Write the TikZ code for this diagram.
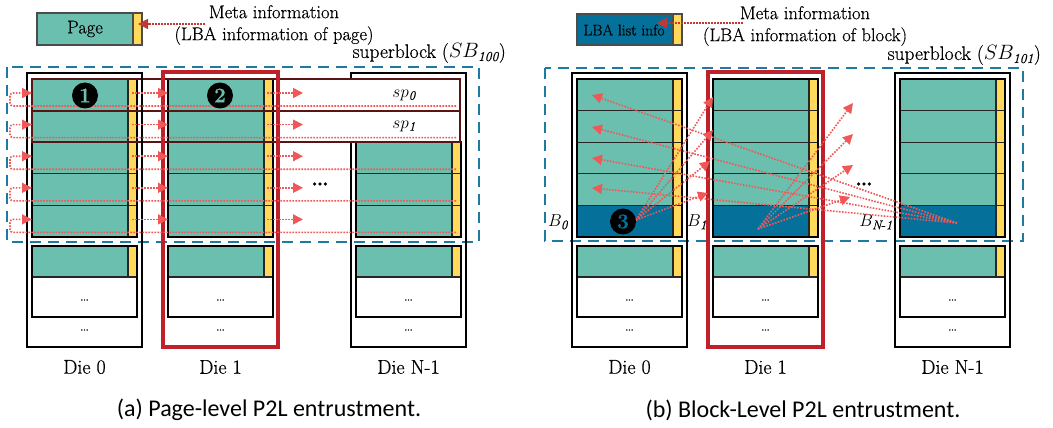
\documentclass[tikz,border=0pt]{standalone}
\usepackage{amsmath}
\usepackage{fontspec}
\setmainfont{Latin Modern Roman}[FakeBold=0.5]
\newfontfamily\capfont{Carlito}
\usetikzlibrary{arrows.meta}

\definecolor{pagegreen}{HTML}{6BBFAE}
\definecolor{metayellow}{HTML}{FFD95A}
\definecolor{listblue}{HTML}{05719A}
\definecolor{sbblue}{HTML}{1F7AA3}
\definecolor{dieRed}{HTML}{C0202A}
\definecolor{spmaroon}{HTML}{5B1414}
\definecolor{ptrred}{HTML}{F05858}
\definecolor{metared}{HTML}{C03838}

\tikzset{
  cellline/.style={line width=1.1pt, draw=black!85},
  colframe/.style={line width=1.8pt, draw=black},
  dieframe/.style={line width=2pt, draw=black},
  dieframered/.style={line width=3.2pt, draw=dieRed},
  sbframe/.style={line width=2.2pt, draw=sbblue, dash pattern=on 11pt off 7pt},
  spframe/.style={line width=1.8pt, draw=spmaroon},
  ptr/.style={draw=ptrred, line width=1.6pt, dash pattern=on 1.6pt off 1.4pt,
    -{Triangle[length=10pt,width=10pt,fill=ptrred]}},
  metaptr/.style={draw=metared, line width=1.6pt, dash pattern=on 1.6pt off 1.4pt,
    -{Triangle[length=10pt,width=10pt,fill=metared]}},
  dielabel/.style={font=\fontsize{20}{22}\selectfont, inner sep=0pt},
  metalabel/.style={font=\fontsize{18.5}{22}\selectfont, align=center, inner sep=0pt},
  sblabel/.style={font=\fontsize{18.5}{20}\selectfont, inner sep=0pt},
  sbtitle/.style={font=\fontsize{19.5}{21}\selectfont, inner sep=0pt, anchor=east},
  caption/.style={font=\capfont\fontsize{24}{26}\selectfont, inner sep=0pt},
  smalldots/.style={font=\fontsize{16}{16}\selectfont, inner sep=0pt},
  bigdots/.style={font=\bfseries\fontsize{22}{22}\selectfont, inner sep=0pt},
  stepnum/.style={circle, fill=black, minimum size=26pt, inner sep=0pt,
    font=\bfseries\fontsize{21}{21}\selectfont},
}

% One column of five pages inside a die; the last page gets colour #3
\newcommand\pagecol[3]{%
  \foreach \i in {#2,...,4}{
    \pgfmathsetmacro\rt{79+31.6*\i}
    \ifnum\i=4 \def\cellcol{#3}\else\def\cellcol{pagegreen}\fi
    \fill[\cellcol] (#1,\rt) rectangle (#1+96,\rt+31.6);
    \fill[metayellow] (#1+96,\rt) rectangle (#1+105,\rt+31.6);
    \draw[cellline] (#1,\rt) -- (#1+105,\rt);
  }
  \draw[cellline] (#1+96,79+31.6*#2) -- (#1+96,237);
  \draw[colframe] (#1,79+31.6*#2) rectangle (#1+105,237);
}

% The next block of a die: one written page, then empty space
\newcommand\lowbox[2]{%
  \fill[pagegreen] (#1,246) rectangle (#1+96,277);
  \fill[metayellow] (#1+96,246) rectangle (#1+105,277);
  \draw[cellline] (#1,277) -- (#1+105,277) (#1+96,246) -- (#1+96,277);
  \draw[colframe] (#1,246) rectangle (#1+105,317);
  \node[smalldots] (#2-a) at (#1+52.5,300) {\ldots};
  \node[smalldots] (#2-b) at (#1+52.5,330) {\ldots};
}

\begin{document}
\begin{tikzpicture}[x=1pt,y=-1pt]
\useasboundingbox (0,0) rectangle (1053,428);

% ================= (a) page-level =================
% legend
\fill[pagegreen] (37,13) rectangle (133,45);
\fill[metayellow] (133,13) rectangle (142,45);
\draw[line width=1.2pt, draw=black!70] (37,13) rectangle (142,45) (133,13) -- (133,45);
\node[metalabel] (a-page) at (85,29) {Page};
\node[metalabel] (a-meta) at (274,25) {Meta information\\(LBA information of page)};
\coordinate (a-metafrom) at (205,24);
\coordinate (a-metato) at (138,24);
\draw[metaptr] (a-metafrom) -- (a-metato);

\node[sbtitle] (a-sb) at (506,53) {superblock ($SB_{\mathit{100}}$)};
\draw[sbframe] (7,67) rectangle (479,242);

% die N-1 (its first two pages lie under the superpage frames)
\pagecol{356}{2}{pagegreen}
\draw[dieframe] (351,73) rectangle (466,347);
\lowbox{356}{a-dn}

% superpages
\fill[white] (32,79) rectangle (460,142);

% die 0 and die 1
\pagecol{32}{0}{pagegreen}
\lowbox{32}{a-d0}
\pagecol{168}{0}{pagegreen}
\lowbox{168}{a-d1}

\draw[spframe] (32,79) rectangle (460,110.6);
\draw[spframe] (32,110.6) rectangle (460,142.2);
\draw[dieframe] (27,73) rectangle (142,347);
\draw[dieframered] (163,72) rectangle (278,347);

\node[sblabel] (a-sp0) at (404,95) {$sp_{\mathit{0}}$};
\node[sblabel] (a-sp1) at (404,126) {$sp_{\mathit{1}}$};

% pointers page to page, and back round to die 0
\foreach \i in {0,...,4}{
  \pgfmathsetmacro\ay{79+31.6*\i+14}
  \pgfmathsetmacro\ry{79+31.6*\i+27}
  \coordinate (a-ret\i) at (456,\ry);
  \coordinate (a-bend\i) at (10,\ry);
  \coordinate (a-in\i) at (32,\ay);
  \coordinate (a-outa\i) at (132,\ay);
  \coordinate (a-inb\i) at (168,\ay);
  \coordinate (a-outb\i) at (267,\ay);
  \coordinate (a-next\i) at (303,\ay);
  \draw[ptr, rounded corners=3pt] (a-ret\i) -- (a-bend\i) |- (a-in\i);
  \draw[ptr] (a-outa\i) -- (a-inb\i);
  \draw[ptr] (a-outb\i) -- (a-next\i);
}
\node[bigdots] (a-more) at (320,184) {\ldots};

\node[stepnum, text=pagegreen] (a-one) at (85,95.5) {1};
\node[stepnum, text=pagegreen] (a-two) at (220,95.5) {2};

\node[dielabel] (a-die0) at (84.5,367) {Die 0};
\node[dielabel] (a-die1) at (220.5,367) {Die 1};
\node[dielabel] (a-dien) at (408.5,367) {Die N-1};
\node[caption] (a-cap) at (269,410) {(a) Page-level P2L entrustment.};

% ================= (b) block-level =================
\fill[listblue] (577,14) rectangle (673,45);
\fill[metayellow] (673,14) rectangle (682,45);
\draw[line width=1.2pt, draw=black!70] (577,14) rectangle (682,45) (673,14) -- (673,45);
\node[metalabel, font=\fontsize{15.5}{18}\selectfont] (b-list) at (624,30) {LBA list info};
\node[metalabel] (b-meta) at (805,26) {Meta information\\(LBA information of block)};
\coordinate (b-metafrom) at (743,23);
\coordinate (b-metato) at (657,23);
\draw[metaptr] (b-metafrom) -- (b-metato);

\node[sbtitle] (b-sb) at (1041,55) {superblock ($SB_{\mathit{101}}$)};
\draw[sbframe] (545,68) rectangle (1023,241);

\pagecol{577}{0}{listblue}
\lowbox{577}{b-d0}
\pagecol{713}{0}{listblue}
\lowbox{713}{b-d1}
\pagecol{900}{0}{listblue}
\lowbox{900}{b-dn}
\draw[dieframe] (572,73) rectangle (687,347);
\draw[dieframered] (708,72) rectangle (823,347);
\draw[dieframe] (895,73) rectangle (1010,347);

\node[sblabel] (b-b0) at (558,222) {$B_{\mathit{0}}$};
\node[sblabel] (b-b1) at (697,222) {$B_{\mathit{1}}$};
\node[sblabel] (b-bn) at (876,222) {$B_{\mathit{N\text{-}1}}$};

% each block's list page points at the pages of the next block
\coordinate (b-src0) at (636,220);
\coordinate (b-src1) at (758,229);
\coordinate (b-srcn) at (957,223);
\foreach \tx/\ty [count=\k] in {713/97,713/130,710/161,708/193}{
  \coordinate (b-ta\k) at (\tx,\ty);
  \draw[ptr] (b-src0) -- (b-ta\k);
}
\foreach \tx/\ty [count=\k] in {853/103,853/134,853/165,850/197}{
  \coordinate (b-tb\k) at (\tx,\ty);
  \draw[ptr] (b-src1) -- (b-tb\k);
}
\foreach \tx/\ty [count=\k] in {592/95,592/127,592/158,592/188}{
  \coordinate (b-tn\k) at (\tx,\ty);
  \draw[ptr] (b-srcn) -- (b-tn\k);
}
\node[bigdots] (b-more) at (864,184) {\ldots};
\node[stepnum, text=listblue] (b-three) at (623,221.5) {3};

\node[dielabel] (b-die0) at (629.5,367) {Die 0};
\node[dielabel] (b-die1) at (765.5,367) {Die 1};
\node[dielabel] (b-dien) at (952.5,367) {Die N-1};
\node[caption] (b-cap) at (803,410) {(b) Block-Level P2L entrustment.};
\end{tikzpicture}
\end{document}
